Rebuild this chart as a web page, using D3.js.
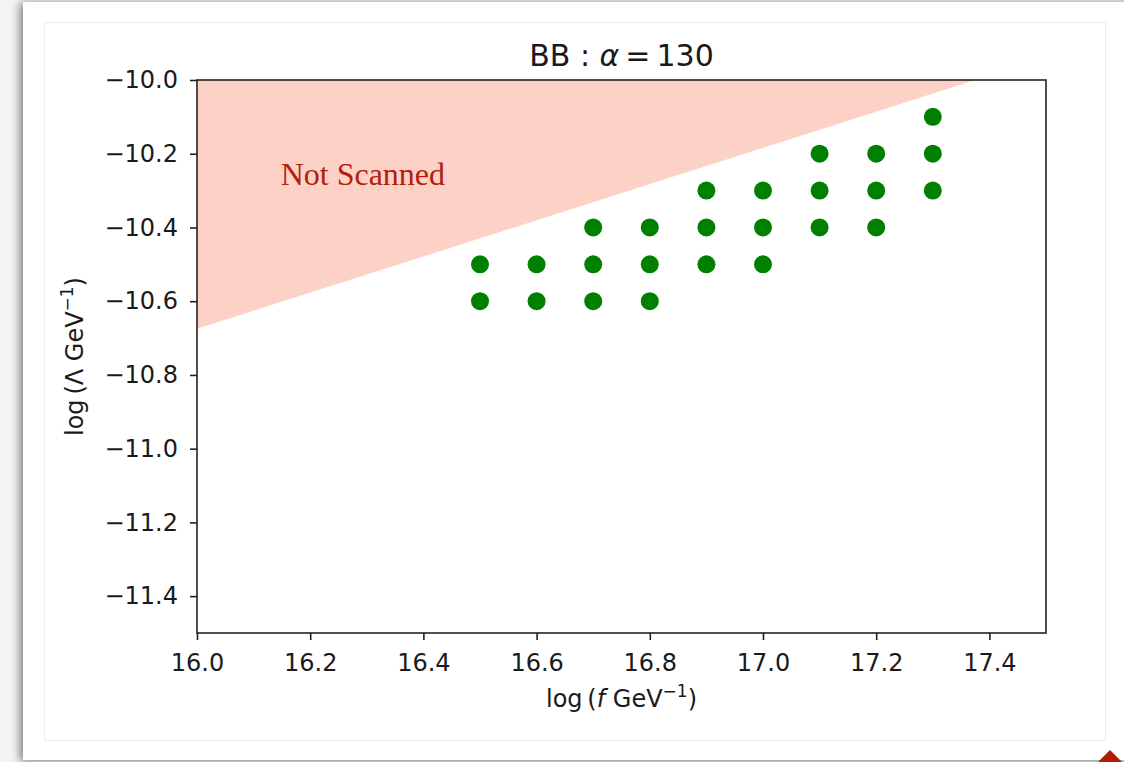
<!DOCTYPE html>
<html>
<head>
<meta charset="utf-8">
<script src="https://cdn.jsdelivr.net/npm/d3@7"></script>
<style>
  html, body { margin: 0; padding: 0; background: #f4f4f4; }
  svg { display: block; }
</style>
</head>
<body>
<div id="svg-container"></div>
<script>
const w = 1124;
const h = 762;

// scanned grid points: log f and log Lambda
const pointsF = [16.5, 16.5, 16.6, 16.6, 16.7, 16.7, 16.7, 16.8, 16.8, 16.8,
                 16.9, 16.9, 16.9, 17.0, 17.0, 17.0, 17.1, 17.1, 17.1,
                 17.2, 17.2, 17.2, 17.3, 17.3, 17.3];
const pointsL = [-10.5, -10.6, -10.5, -10.6, -10.4, -10.5, -10.6, -10.4, -10.5, -10.6,
                 -10.3, -10.4, -10.5, -10.3, -10.4, -10.5, -10.2, -10.3, -10.4,
                 -10.2, -10.3, -10.4, -10.1, -10.2, -10.3];

// boundary of the not-scanned region
const regionF = [16.0, 17.375, 16.0];
const regionL = [-10.0, -10.0, -10.675];

const xTicks = [16.0, 16.2, 16.4, 16.6, 16.8, 17.0, 17.2, 17.4];
const yTicks = [-10.0, -10.2, -10.4, -10.6, -10.8, -11.0, -11.2, -11.4];

const margin = {left: 197, right: 1046, top: 80, bottom: 633};

window.onload = function() {

    const svg = d3.select("#svg-container")
        .append("svg")
        .attr("width", w)
        .attr("height", h);

    // page card behind the figure
    const defs = svg.append("defs");
    const shadow = defs.append("filter").attr("id", "shadow")
        .attr("x", "-5%").attr("y", "-5%").attr("width", "110%").attr("height", "110%");
    shadow.append("feGaussianBlur").attr("in", "SourceAlpha").attr("stdDeviation", 5);
    shadow.append("feOffset").attr("dx", -3).attr("dy", 1).attr("result", "b");
    shadow.append("feComponentTransfer").append("feFuncA").attr("type", "linear").attr("slope", 0.5);
    const merge = shadow.append("feMerge");
    merge.append("feMergeNode");
    merge.append("feMergeNode").attr("in", "SourceGraphic");

    svg.append("rect")
        .attr("x", 0).attr("y", 0).attr("width", w).attr("height", h)
        .style("fill", "#f4f4f4");

    svg.append("rect")
        .attr("x", 23).attr("y", 2).attr("width", 1140).attr("height", 758)
        .style("fill", "#fff")
        .attr("filter", "url(#shadow)");

    svg.append("rect")
        .attr("x", 44.5).attr("y", 22.5).attr("width", 1061).attr("height", 718)
        .style("fill", "none")
        .style("stroke", "#ececec")
        .style("stroke-width", 1);

    svg.append("path")
        .attr("d", "M1110,750 L1122,762 L1098,762 Z")
        .style("fill", "#b01c00");

    const xScale = d3.scaleLinear().domain([16.0, 17.5]).range([margin.left, margin.right]);
    const yScale = d3.scaleLinear().domain([-11.5, -10.0]).range([margin.bottom, margin.top]);

    // not scanned region
    svg.append("path")
        .datum(regionF.map((f, i) => [f, regionL[i]]))
        .attr("d", d3.line().x(d => xScale(d[0])).y(d => yScale(d[1])).curve(d3.curveLinearClosed))
        .style("fill", "#fcd2c6");

    svg.append("text")
        .attr("x", xScale(16.293))
        .attr("y", yScale(-10.285))
        .attr("text-anchor", "middle")
        .style("font-family", "'Liberation Serif', serif")
        .style("font-size", "32px")
        .style("fill", "#b4200e")
        .text("Not Scanned");

    // points
    svg.selectAll("circle")
        .data(pointsF.map((f, i) => ({f: f, l: pointsL[i]})))
        .enter()
        .append("circle")
        .attr("cx", d => xScale(d.f))
        .attr("cy", d => yScale(d.l))
        .attr("r", 9)
        .style("fill", "#008000");

    const fmt = d => d3.format(".1f")(d).replace("-", "\u2212");

    const xAxis = d3.axisBottom(xScale).tickValues(xTicks).tickFormat(fmt).tickSize(7).tickPadding(14);
    const yAxis = d3.axisLeft(yScale).tickValues(yTicks).tickFormat(fmt).tickSize(7).tickPadding(12);

    const gx = svg.append("g")
        .attr("transform", `translate(0,${margin.bottom})`)
        .call(xAxis);
    const gy = svg.append("g")
        .attr("transform", `translate(${margin.left},0)`)
        .call(yAxis);

    [gx, gy].forEach(g => {
        g.select(".domain").remove();
        g.selectAll(".tick line").style("stroke", "#222").style("stroke-width", 1.6);
        g.selectAll(".tick text")
            .style("font-family", "'DejaVu Sans', sans-serif")
            .style("font-size", "24px")
            .style("fill", "#1a1a1a");
    });

    // frame
    svg.append("rect")
        .attr("x", margin.left).attr("y", margin.top)
        .attr("width", margin.right - margin.left)
        .attr("height", margin.bottom - margin.top)
        .style("fill", "none")
        .style("stroke", "#222")
        .style("stroke-width", 1.6);

    // title
    const title = svg.append("text")
        .attr("x", (margin.left + margin.right) / 2)
        .attr("y", 66)
        .attr("text-anchor", "middle")
        .style("font-family", "'DejaVu Sans', sans-serif")
        .style("font-size", "30px")
        .style("fill", "#1a1a1a");
    title.append("tspan").text("BB : ");
    title.append("tspan").style("font-style", "italic").text("\u03b1");
    title.append("tspan").text("\u2009=\u2009130");

    // x label
    const xl = svg.append("text")
        .attr("x", (margin.left + margin.right) / 2)
        .attr("y", 707)
        .attr("text-anchor", "middle")
        .style("font-family", "'DejaVu Sans', sans-serif")
        .style("font-size", "24px")
        .style("fill", "#1a1a1a");
    xl.append("tspan").text("log\u2009(");
    xl.append("tspan").style("font-style", "italic").text("f");
    xl.append("tspan").text(" GeV");
    xl.append("tspan").attr("dy", -10).style("font-size", "17px").text("\u22121");
    xl.append("tspan").attr("dy", 10).text(")");

    // y label
    const yl = svg.append("text")
        .attr("transform", `translate(83,${(margin.top + margin.bottom) / 2}) rotate(-90)`)
        .attr("text-anchor", "middle")
        .style("font-family", "'DejaVu Sans', sans-serif")
        .style("font-size", "24px")
        .style("fill", "#1a1a1a");
    yl.append("tspan").text("log\u2009(\u039b GeV");
    yl.append("tspan").attr("dy", -10).style("font-size", "17px").text("\u22121");
    yl.append("tspan").attr("dy", 10).text(")");
}
</script>
</body>
</html>
